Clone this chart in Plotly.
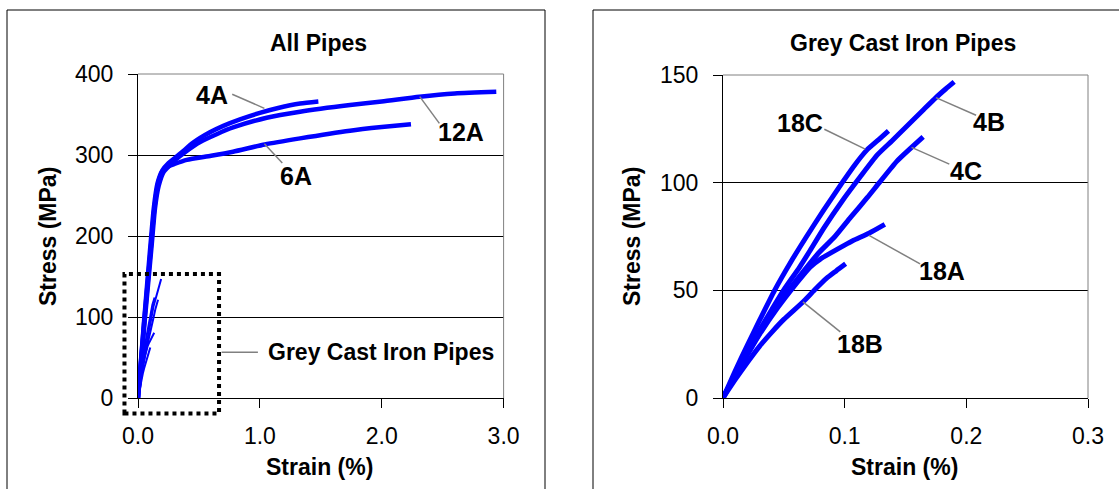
import plotly.graph_objects as go

W, H = 1119, 489

# ---------------- data (strain in %, stress in MPa) ----------------
# ductile pipes (All Pipes panel)
x_4A = [0, 0.05, 0.10, 0.13, 0.16, 0.20, 0.25, 0.30, 0.372, 0.45, 0.59, 0.70, 0.837, 1.00, 1.15, 1.33, 1.48]
y_4A = [0, 95, 185, 235, 265, 281, 290, 296, 305, 315, 328, 336, 344, 352, 358, 363.5, 366]

x_12A = [0, 0.055, 0.11, 0.14, 0.17, 0.21, 0.26, 0.30, 0.40, 0.51, 0.65, 0.78, 1.056, 1.33, 1.74, 2.00, 2.31, 2.60, 2.94]
y_12A = [0, 95, 185, 235, 262, 279, 287, 293, 305, 316, 326, 334, 346, 353.5, 361.7, 366, 372, 376, 378]

x_6A = [0, 0.05, 0.105, 0.135, 0.165, 0.20, 0.25, 0.30, 0.40, 0.60, 0.78, 1.04, 1.33, 1.74, 2.00, 2.24]
y_6A = [0, 92, 185, 235, 265, 280, 286, 289, 294, 299, 304, 313, 320.5, 330, 334.5, 338]

# grey cast iron pipes
x_18C = [0, 0.01, 0.02, 0.03, 0.0424, 0.055, 0.0687, 0.083, 0.098, 0.108, 0.118, 0.128, 0.136]
y_18C = [0, 12.5, 24.5, 36, 50, 62.5, 75, 87.5, 100, 108, 115, 120, 124]

x_4B = [0, 0.01, 0.02, 0.03, 0.04, 0.0497, 0.063, 0.0716, 0.083, 0.098, 0.1125, 0.127, 0.139, 0.150, 0.165, 0.175, 0.183, 0.19]
y_4B = [0, 11, 21.5, 31.5, 41, 50, 60.8, 68.5, 79, 91.5, 102.5, 113, 119.5, 125.6, 134, 139.5, 143.5, 146.8]

x_4C = [0, 0.01, 0.02, 0.03, 0.04, 0.054, 0.065, 0.078, 0.092, 0.105, 0.1185, 0.1285, 0.143, 0.155, 0.1645]
y_4C = [0, 10.5, 20.5, 30, 39, 50, 58, 67, 75, 84, 93, 100, 110, 116.4, 121.3]

x_18A = [0, 0.01, 0.02, 0.03, 0.045, 0.06, 0.0716, 0.08, 0.089, 0.10, 0.1066, 0.12, 0.133]
y_18A = [0, 10.5, 20, 29.5, 42, 53, 60.8, 64.5, 67.5, 71, 73, 76.5, 80.6]

x_18B = [0, 0.01, 0.02, 0.03, 0.04, 0.05, 0.0657, 0.075, 0.085, 0.093, 0.1008]
y_18B = [0, 8.5, 16.5, 24, 30.5, 36.5, 44.6, 50, 55.5, 59, 62.3]

# axes
left_x_ticks = [0, 1, 2, 3]
left_y_ticks = [0, 100, 200, 300, 400]
right_x_ticks = [0, 0.1, 0.2, 0.3]
right_y_ticks = [0, 50, 100, 150]

# labels: (text, label x, label y, leader from x, from y, to x, to y)
left_labels = [
    ("4A", 0.604, 374, 0.773, 375, 1.037, 357.6),
    ("12A", 2.65, 329, 2.473, 339, 2.312, 372),
    ("6A", 1.295, 274, 1.184, 290, 1.037, 314),
]
right_labels = [
    ("18C", 0.0634, 127.5, 0.0833, 124.8, 0.1169, 115.6),
    ("4B", 0.219, 128, 0.208, 131.3, 0.175, 139.5),
    ("4C", 0.200, 105.6, 0.186, 108.6, 0.155, 116.4),
    ("18A", 0.1797, 59, 0.162, 62.3, 0.12, 75.5),
    ("18B", 0.1125, 25.3, 0.0964, 30.7, 0.0657, 44.6),
]
zoom_box_x = [-0.111, 0.665]
zoom_box_y = [-19, 153]
zoom_label = ("Grey Cast Iron Pipes", 1.052, 56.4, 0.686, 0.984)

BLUE = "#0000FF"
FONT = "Liberation Sans, Arial, sans-serif"
FS = 23
LFS = 25

fig = go.Figure()

for xs, ys in [(x_4A, y_4A), (x_12A, y_12A), (x_6A, y_6A)]:
    fig.add_trace(go.Scatter(x=xs, y=ys, mode="lines", line=dict(color=BLUE, width=4.5, shape="spline", smoothing=0.6),
                             xaxis="x", yaxis="y", hoverinfo="skip"))
for xs, ys in [(x_18C, y_18C), (x_4B, y_4B), (x_4C, y_4C), (x_18A, y_18A), (x_18B, y_18B)]:
    fig.add_trace(go.Scatter(x=xs, y=ys, mode="lines", line=dict(color=BLUE, width=2),
                             xaxis="x", yaxis="y", hoverinfo="skip"))
    fig.add_trace(go.Scatter(x=xs, y=ys, mode="lines", line=dict(color=BLUE, width=5, shape="spline", smoothing=0.6),
                             xaxis="x2", yaxis="y2", hoverinfo="skip"))

# pixel geometry of the two plot areas
LX0, LX1, LY0, LY1 = 138, 503.6, 74, 398
RX0, RX1, RY0, RY1 = 723, 1088, 75, 398

common = dict(showline=True, linecolor="black", linewidth=1, ticks="outside", ticklen=9,
              tickcolor="black", tickwidth=1, zeroline=False, fixedrange=True,
              tickfont=dict(size=FS, color="black", family=FONT), automargin=False)

fig.update_layout(
    width=W, height=H, margin=dict(l=0, r=0, t=0, b=0), autosize=False,
    paper_bgcolor="white", plot_bgcolor="white", showlegend=False,
    font=dict(family=FONT, color="black", size=FS),
    xaxis=dict(domain=[LX0 / W, LX1 / W], range=[0, 3], tickvals=left_x_ticks, tickformat=".1f",
               showgrid=False, anchor="y", ticklabelstandoff=8, **common),
    yaxis=dict(domain=[1 - LY1 / H, 1 - LY0 / H], range=[0, 400], tickvals=left_y_ticks,
               showgrid=True, gridcolor="black", gridwidth=1, anchor="x", ticklabelstandoff=10, **common),
    xaxis2=dict(domain=[RX0 / W, RX1 / W], range=[0, 0.3], tickvals=right_x_ticks, tickformat=".1f",
                showgrid=False, anchor="y2", ticklabelstandoff=8, **common),
    yaxis2=dict(domain=[1 - RY1 / H, 1 - RY0 / H], range=[0, 150], tickvals=right_y_ticks,
                showgrid=True, gridcolor="black", gridwidth=1, anchor="x2", ticklabelstandoff=10, **common),
)

shapes = []
# outer frames
shapes.append(dict(type="rect", xref="paper", yref="paper", x0=7 / W, x1=545 / W, y0=-0.1, y1=1 - 10 / H,
                   line=dict(color="black", width=1), fillcolor="rgba(0,0,0,0)", layer="below"))
shapes.append(dict(type="rect", xref="paper", yref="paper", x0=593 / W, x1=1.1, y0=-0.1, y1=1 - 10 / H,
                   line=dict(color="black", width=1), fillcolor="rgba(0,0,0,0)", layer="below"))
# plot-area borders (top / right)
for xr, yr in [("x", "y"), ("x2", "y2")]:
    shapes.append(dict(type="line", xref=xr + " domain", yref=yr + " domain", x0=1, x1=1, y0=0, y1=1,
                       line=dict(color="#808080", width=1)))
    shapes.append(dict(type="line", xref=xr + " domain", yref=yr + " domain", x0=0, x1=1, y0=1, y1=1,
                       line=dict(color="#808080", width=1)))
# dotted zoom box on left panel (domain coordinates from data values)
bx = [(v - 0) / 3 for v in zoom_box_x]
by = [(v - 0) / 400 for v in zoom_box_y]
shapes.append(dict(type="rect", xref="x domain", yref="y domain", x0=bx[0], x1=bx[1], y0=by[0], y1=by[1],
                   line=dict(color="black", width=4, dash="dot"), fillcolor="rgba(0,0,0,0)"))

annotations = []
for txt, lx, ly, fx, fy, tx, ty in left_labels:
    shapes.append(dict(type="line", xref="x", yref="y", x0=fx, y0=fy, x1=tx, y1=ty,
                       line=dict(color="#808080", width=1.5)))
    annotations.append(dict(xref="x", yref="y", x=lx, y=ly, text="<b>%s</b>" % txt, showarrow=False,
                            font=dict(size=LFS, color="black"), xanchor="center", yanchor="middle"))
for txt, lx, ly, fx, fy, tx, ty in right_labels:
    shapes.append(dict(type="line", xref="x2", yref="y2", x0=fx, y0=fy, x1=tx, y1=ty,
                       line=dict(color="#808080", width=1.5)))
    annotations.append(dict(xref="x2", yref="y2", x=lx, y=ly, text="<b>%s</b>" % txt, showarrow=False,
                            font=dict(size=LFS, color="black"), xanchor="center", yanchor="middle"))
zt, zx, zy, zl0, zl1 = zoom_label
shapes.append(dict(type="line", xref="x", yref="y", x0=zl0, y0=zy, x1=zl1, y1=zy,
                   line=dict(color="#808080", width=1.5)))
annotations.append(dict(xref="x", yref="y", x=zx, y=zy, text="<b>%s</b>" % zt, showarrow=False,
                        font=dict(size=FS, color="black"), xanchor="left", yanchor="middle"))

# titles and axis titles (paper positions)
def P(px, py):
    return px / W, 1 - py / H

for txt, (px, py), rot in [
    ("All Pipes", (318, 43), 0),
    ("Grey Cast Iron Pipes", (903, 43), 0),
    ("Strain (%)", (319, 467), 0),
    ("Strain (%)", (905, 467), 0),
    ("Stress (MPa)", (48, 237), -90),
    ("Stress (MPa)", (632, 237), -90),
]:
    x, y = P(px, py)
    annotations.append(dict(xref="paper", yref="paper", x=x, y=y, text="<b>%s</b>" % txt, showarrow=False,
                            textangle=rot, font=dict(size=FS, color="black"), xanchor="center", yanchor="middle"))

fig.update_layout(shapes=shapes, annotations=annotations)
fig.write_html("out.html")
